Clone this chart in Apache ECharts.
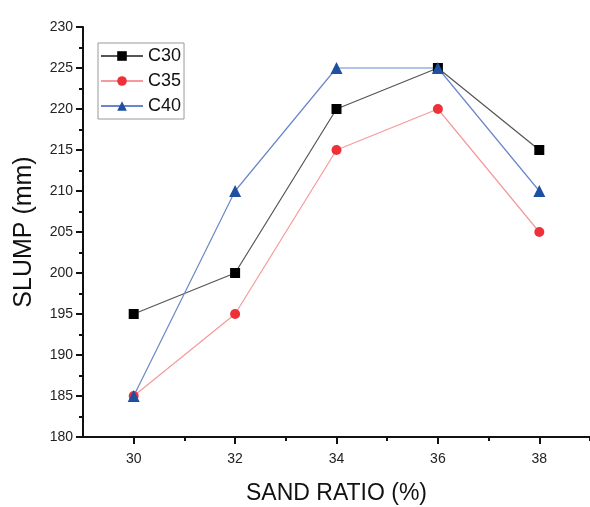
<!DOCTYPE html>
<html>
<head>
<meta charset="utf-8">
<script src="https://cdn.jsdelivr.net/npm/echarts@6/dist/echarts.min.js"></script>
<style>
  html, body { margin: 0; padding: 0; background: #fff; }
  #chart { width: 590px; height: 507px; }
</style>
</head>
<body>
<div id="chart"></div>
<script>
// sand ratio (%) on x, slump (mm) on y
const sandRatio = [30, 32, 34, 36, 38];
const c30 = [195, 200, 220, 225, 215];
const c35 = [185, 195, 215, 220, 205];
const c40 = [185, 210, 225, 225, 210];
const majorTicks = [30, 32, 34, 36, 38];
const minorTicks = [31, 33, 35, 37, 39];

const pairs = (ys) => sandRatio.map((x, i) => [x, ys[i]]);

const chart = echarts.init(document.getElementById('chart'));
const font = 'Liberation Sans, Arial, sans-serif';

chart.setOption({
  backgroundColor: '#fff',
  animation: false,
  grid: { left: 83, right: 0, top: 27, bottom: 70, outerBoundsMode: 'none' },
  legend: {
    left: 98, top: 43,
    orient: 'vertical',
    itemWidth: 42, itemHeight: 12, itemGap: 7,
    borderColor: '#999', borderWidth: 1,
    padding: [4, 3, 4, 2],
    textStyle: { fontFamily: font, fontSize: 18, color: '#111' },
    data: ['C30', 'C35', 'C40']
  },
  xAxis: [{
    type: 'value', min: 29, max: 39,
    name: 'SAND RATIO (%)', nameLocation: 'middle', nameGap: 45,
    nameTextStyle: { fontFamily: font, fontSize: 23, color: '#111' },
    axisLine: { lineStyle: { color: '#111', width: 2 } },
    axisTick: { customValues: majorTicks, length: 7, lineStyle: { width: 2, color: '#111' } },
    axisLabel: { customValues: majorTicks, fontFamily: font, fontSize: 14, color: '#222', margin: 15 },
    splitLine: { show: false }
  }, {
    type: 'value', min: 29, max: 39, position: 'bottom',
    axisLine: { show: false },
    axisTick: { customValues: minorTicks, length: 4, lineStyle: { width: 2, color: '#111' } },
    axisLabel: { show: false },
    splitLine: { show: false }
  }],
  yAxis: {
    type: 'value', min: 180, max: 230, interval: 5,
    name: 'SLUMP (mm)', nameLocation: 'middle', nameGap: 46,
    nameTextStyle: { fontFamily: font, fontSize: 25, color: '#111' },
    axisLine: { show: true, lineStyle: { color: '#111', width: 2 } },
    axisTick: { show: true, length: 7, lineStyle: { width: 2, color: '#111' } },
    minorTick: { show: true, splitNumber: 2, length: 4, lineStyle: { width: 2, color: '#111' } },
    axisLabel: { fontFamily: font, fontSize: 14, color: '#222', margin: 10 },
    splitLine: { show: false }
  },
  series: [{
    name: 'C30', type: 'line', data: pairs(c30),
    symbol: 'rect', symbolSize: 10,
    itemStyle: { color: '#000' },
    lineStyle: { color: '#555', width: 1.2 }
  }, {
    name: 'C35', type: 'line', data: pairs(c35),
    symbol: 'circle', symbolSize: 10,
    itemStyle: { color: '#ee3138' },
    lineStyle: { color: '#f59a9c', width: 1.2 }
  }, {
    name: 'C40', type: 'line', data: pairs(c40),
    symbol: 'triangle', symbolSize: 12,
    itemStyle: { color: '#1f4f9f' },
    lineStyle: { color: '#6a86cc', width: 1.2 }
  }]
});
</script>
</body>
</html>
